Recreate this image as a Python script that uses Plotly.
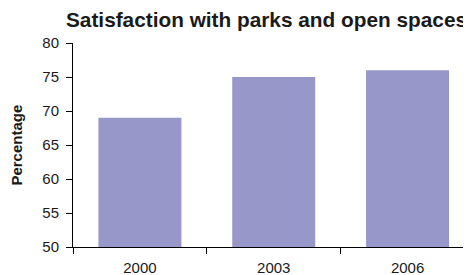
import plotly.graph_objects as go

years = ["2000", "2003", "2006"]
values = [69, 75, 76]
y_ticks = [50, 55, 60, 65, 70, 75, 80]

# page has an 8px body margin; figure coordinates are page coordinates - 8
OFF = 8
W, H = 471 - OFF, 275 - OFF
L, R, T = 72.5 - OFF, 0, 43.3 - OFF
B = H - (246.7 - OFF)

fig = go.Figure(go.Bar(x=years, y=values, marker=dict(color="#9797C9", line=dict(width=0)),
                       width=0.62))

font = "Liberation Sans, Arial, sans-serif"
txt = "#1a1a1a"
fig.update_layout(
    width=W, height=H,
    margin=dict(l=L, r=R, t=T, b=B, pad=0, autoexpand=False),
    plot_bgcolor="white", paper_bgcolor="white",
    font=dict(family=font, size=15, color=txt),
    showlegend=False,
    title=dict(text="<b>Satisfaction with parks and open spaces</b>",
               font=dict(size=20.8, family=font, color=txt),
               x=(266.5 - OFF) / W, xref="container", xanchor="center",
               y=1 - (20 - OFF) / H, yref="container", yanchor="middle"),
    xaxis=dict(type="category", range=[-0.5, 2.474], showline=True, linecolor="black",
               linewidth=1, ticks="outside", ticklen=6, tickcolor="black",
               tickson="boundaries", showgrid=False, zeroline=False,
               tickfont=dict(size=15), ticklabelstandoff=7),
    yaxis=dict(range=[50, 80], tickvals=y_ticks, showline=True, linecolor="black",
               linewidth=1, ticks="outside", ticklen=6, tickcolor="black",
               showgrid=False, zeroline=False, tickfont=dict(size=15),
               ticklabelstandoff=4),
    annotations=[dict(text="<b>Percentage</b>", textangle=-90,
                      x=(15 - OFF - L) / (W - L - R), y=0.5,
                      xref="paper", yref="paper", showarrow=False,
                      font=dict(size=15, family=font, color=txt),
                      xanchor="center", yanchor="middle")],
)

fig.write_html("out.html")
